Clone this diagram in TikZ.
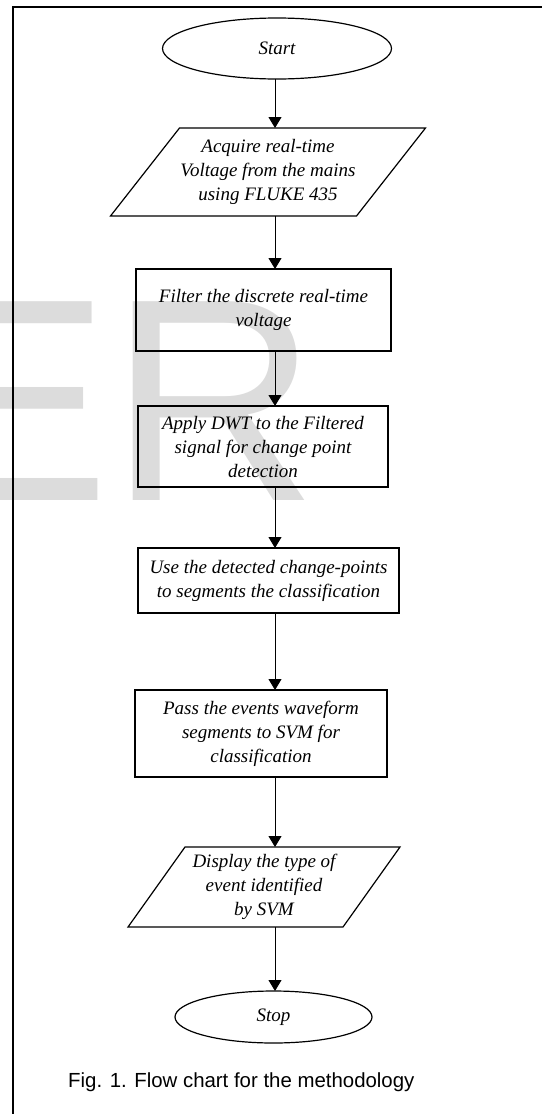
\documentclass[tikz,border=0pt]{standalone}
\usepackage{fontspec}
\setmainfont{Liberation Serif}
\newfontfamily\capfont{Liberation Sans}
\usetikzlibrary{positioning,arrows.meta,shapes.geometric}
\definecolor{wmgray}{HTML}{DCDCDC}

\begin{document}
\begin{tikzpicture}[x=1pt, y=1pt,
  flow/.style={draw, line width=1.2pt, outer sep=0pt, inner sep=0pt, align=center, font=\fontsize{19}{24}\selectfont\itshape},
  term/.style={flow, ellipse},
  io/.style={flow, draw=none, rectangle},
  edge/.style={line width=1.2pt, line join=miter},
  proc/.style={flow, rectangle},
  arr/.style={-{Triangle[length=11pt, width=13pt]}, line width=1pt}]
\useasboundingbox (0,0) rectangle (542,-1114);
% watermark behind everything
\node[anchor=base west, inner sep=0pt, text=wmgray, font=\capfont\fontsize{289}{289}\selectfont] (wm) at (-83,-500) {ER};
\draw[line width=2.5pt] (13,-1114) -- (13,-7) -- (542,-7);
\coordinate (axis) at (275,0);
\node[term, minimum width=229pt, minimum height=61pt] (start) at (277,-48.5) {Start};
\node[io, minimum width=246pt, minimum height=88pt, below=49pt of start, xshift=-9pt] (acq) {Acquire real-time\\Voltage from the mains\\using FLUKE 435};
\node[proc, minimum width=255pt, minimum height=82pt, below=53pt of acq, xshift=-4.5pt] (filt) {Filter the discrete real-time\\voltage};
\node[proc, minimum width=250pt, minimum height=81pt, below=55pt of filt, xshift=-0.5pt] (dwt) {Apply DWT to the Filtered\\signal for change point\\detection};
\node[proc, minimum width=261pt, minimum height=65pt, below=61pt of dwt, xshift=5.5pt] (seg) {Use the detected change-points\\to segments the classification};
\node[proc, minimum width=252pt, minimum height=87pt, below=77pt of seg, xshift=-7.5pt] (svm) {Pass the events waveform\\segments to SVM for\\classification};
\node[io, minimum width=215pt, minimum height=80pt, below=70pt of svm, xshift=3pt] (disp) {Display the type of\\event identified\\by SVM};
\node[term, minimum width=197pt, minimum height=52pt, below=64pt of disp, xshift=9.5pt] (stop) {Stop};
% slanted sides of the two input/output boxes
\draw[edge] ([xshift=-34.5pt]acq.south west) -- ([xshift=34.5pt]acq.north west) -- ([xshift=34.5pt]acq.north east) -- ([xshift=-34.5pt]acq.south east) -- cycle;
\draw[edge] ([xshift=-28.5pt]disp.south west) -- ([xshift=28.5pt]disp.north west) -- ([xshift=28.5pt]disp.north east) -- ([xshift=-28.5pt]disp.south east) -- cycle;
\draw[arr] (axis |- start.south) -- (axis |- acq.north);
\draw[arr] (axis |- acq.south) -- (axis |- filt.north);
\draw[arr] (axis |- filt.south) -- (axis |- dwt.north);
\draw[arr] (axis |- dwt.south) -- (axis |- seg.north);
\draw[arr] (axis |- seg.south) -- (axis |- svm.north);
\draw[arr] (axis |- svm.south) -- (axis |- disp.north);
\draw[arr] (axis |- disp.south) -- (axis |- stop.north);
\node[anchor=base west, inner sep=0pt, font=\capfont\fontsize{20.4}{24}\selectfont] (cap) at (68,-1087) {Fig. 1. Flow chart for the methodology};
\end{tikzpicture}
\end{document}
